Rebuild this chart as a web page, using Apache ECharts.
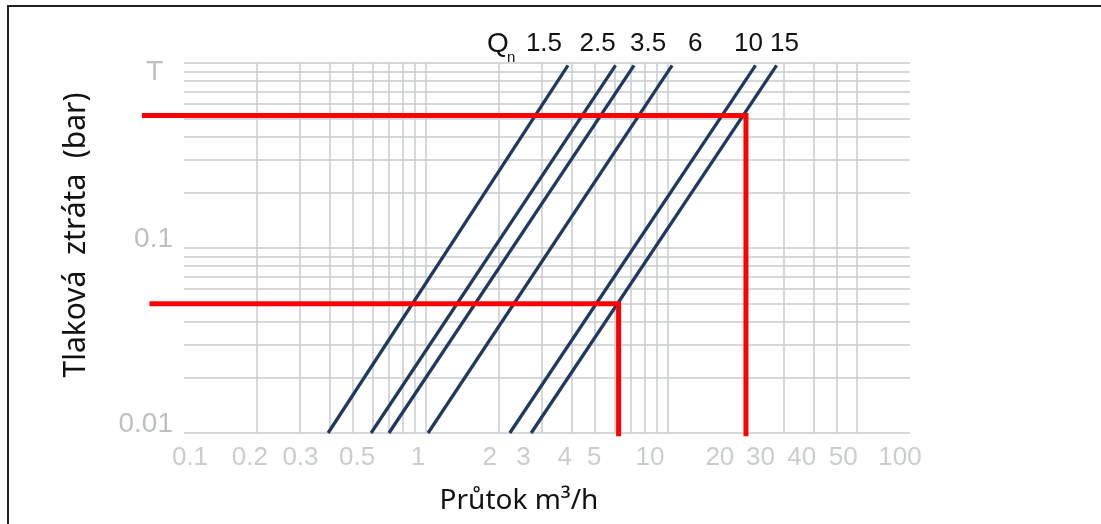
<!DOCTYPE html>
<html>
<head>
<meta charset="utf-8">
<script src="https://cdn.jsdelivr.net/npm/echarts@6/dist/echarts.min.js"></script>
<style>
html,body{margin:0;padding:0;background:#fff;}
#c{width:1101px;height:524px;}
</style>
</head>
<body>
<div id="c"></div>
<script>
// ---------- DATA ----------
const qnNames = ['1.5', '2.5', '3.5', '6', '10', '15'];
const flowAtMinLoss = [0.394, 0.593, 0.703, 1.02, 2.22, 2.72];   // m3/h at 0.01 bar
const flowAtMaxLoss = [3.86, 6.07, 7.24, 10.4, 23.0, 28.1];      // m3/h at top of lines
const lossRange = [0.01, 0.97];                                  // bar

const redUpperFlow = [0.067, 21, 21];
const redUpperLoss = [0.52, 0.52, 0.0096];
const redLowerFlow = [0.072, 6.25, 6.25];
const redLowerLoss = [0.05, 0.05, 0.0096];

const xTickValues = [0.1, 0.2, 0.3, 0.5, 1, 2, 3, 4, 5, 10, 20, 30, 40, 50, 100];
const xTickLabels = ['0.1', '0.2', '0.3', '0.5', '1', '2', '3', '4', '5', '10', '20', '30', '40', '50', '100'];
const yTickValues = [0.01, 0.1, 1];
const yTickLabels = ['0.01', '0.1', 'T'];

const xGridValues = [0.2, 0.3, 0.4, 0.5, 0.6, 0.7, 0.8, 0.9, 1, 2, 3, 4, 5, 6, 7, 8, 9, 10, 30, 40, 50, 60];
const yGridValues = [0.01, 0.02, 0.03, 0.04, 0.05, 0.06, 0.07, 0.08, 0.09, 0.1, 0.2, 0.3, 0.4, 0.5, 0.6, 0.7, 0.8, 0.9, 1];
const xGridSpan = [0.1, 100];
const xAxisRange = [0.06, 100];
const yAxisRange = [0.01, 1];

// ---------- LAYOUT / STYLE ----------
const qnLabelDx = [-24, -18, 14, 23, -7, 8];
const xLabelDx = [6, -7, 1, 4, -8, -9, -18, -7, -1, -18, -21, -23, -12, 6, -10];
const gridLeft = 130.3;
const plotLeft = 184;
const font = "'Liberation Sans', 'Noto Sans', sans-serif";
const tickColor = '#bcc0c3';
const navy = '#1f3a60';
const red = '#ff0000';
const gridColor = '#c8cccc';

const chart = echarts.init(document.getElementById('c'), null, {renderer: 'canvas'});

function yLabel(v) {
  for (let i = 0; i < yTickValues.length; i++) {
    if (Math.abs(Math.log10(v) - Math.log10(yTickValues[i])) < 1e-6) {
      return i === yTickValues.length - 1 ? '{t|' + yTickLabels[i] + '}' : '{n|' + yTickLabels[i] + '}';
    }
  }
  return '';
}

const qnSeries = qnNames.map((name, i) => ({
  type: 'line',
  name: name,
  z: 3,
  symbol: 'circle',
  symbolSize: 0,
  showSymbol: true,
  itemStyle: {color: navy},
  lineStyle: {color: navy, width: 3.3},
  data: [
    {value: [flowAtMinLoss[i], lossRange[0]], label: {show: false}},
    {
      value: [flowAtMaxLoss[i], lossRange[1]],
      label: {
        show: true,
        position: 'top',
        distance: 9,
        offset: [qnLabelDx[i], 0],
        formatter: name,
        fontFamily: font,
        fontSize: 26,
        lineHeight: 26,
        color: '#111',
        opacity: 1
      }
    }
  ]
}));

function redSeries(xs, ys) {
  return {
    type: 'line',
    z: 6,
    clip: false,
    symbol: 'none',
    lineStyle: {color: red, width: 5, join: 'miter'},
    data: xs.map((x, i) => [x, ys[i]])
  };
}

const gridLines = xGridValues.map(v => ({xAxis: v})).concat(
  yGridValues.map(v => [{coord: [xGridSpan[0], v]}, {coord: [xGridSpan[1], v]}])
);

const option = {
  animation: false,
  backgroundColor: '#fff',
  grid: {left: gridLeft, right: 191, top: 63, bottom: 91},
  xAxis: {
    type: 'log', logBase: 10, min: xAxisRange[0], max: xAxisRange[1],
    axisLine: {show: false}, axisTick: {show: false},
    axisLabel: {show: false}, splitLine: {show: false}
  },
  yAxis: {
    type: 'log', logBase: 10, min: yAxisRange[0], max: yAxisRange[1],
    axisLine: {show: false}, axisTick: {show: false},
    splitLine: {show: false},
    axisLabel: {
      show: true,
      margin: -(plotLeft - gridLeft) + 11,
      verticalAlign: 'middle',
      formatter: yLabel,
      rich: {
        n: {fontFamily: font, fontSize: 28, lineHeight: 28, color: tickColor, padding: [0, 0, 18, 0]},
        t: {fontFamily: font, fontSize: 28, lineHeight: 28, color: tickColor, padding: [18, 10, 0, 0]}
      }
    }
  },
  series: [
    {
      type: 'line',
      z: 1,
      data: [],
      silent: true,
      markLine: {
        z: 1,
        silent: true,
        symbol: 'none',
        animation: false,
        label: {show: false},
        lineStyle: {color: gridColor, width: 1.5, type: 'solid'},
        data: gridLines
      }
    },
    {
      type: 'scatter',
      z: 2,
      symbolSize: 0,
      silent: true,
      data: xTickValues.map((v, i) => ({value: [v, yAxisRange[0]], label: {offset: [xLabelDx[i], 0]}})),
      label: {
        show: true,
        position: 'bottom',
        distance: 12,
        formatter: p => xTickLabels[p.dataIndex],
        fontFamily: font,
        fontSize: 26,
        lineHeight: 26,
        color: tickColor
      }
    },
    ...qnSeries,
    redSeries(redUpperFlow, redUpperLoss),
    redSeries(redLowerFlow, redLowerLoss)
  ],
  graphic: [
    {type: 'polyline', z: 10, shape: {points: [[8, 524], [8, 6], [1101, 6]]}, style: {stroke: '#222', lineWidth: 2, fill: null}},
    {type: 'text', x: 487, y: 30, style: {text: 'Q', font: '28px ' + font, fill: '#111'}},
    {type: 'text', x: 507, y: 50, style: {text: 'n', font: '15px ' + font, fill: '#111'}},
    {type: 'text', x: 519, y: 501, style: {text: 'Průtok m³/h', font: '28px "Noto Sans", sans-serif', fill: '#111', align: 'center', verticalAlign: 'middle'}},
    {type: 'text', x: 76, y: 235, rotation: Math.PI / 2, style: {text: 'Tlaková  ztráta  (bar)', font: '30px "Noto Sans", sans-serif', fill: '#111', align: 'center', verticalAlign: 'middle'}}
  ]
};
chart.setOption(option);
</script>
</body>
</html>
